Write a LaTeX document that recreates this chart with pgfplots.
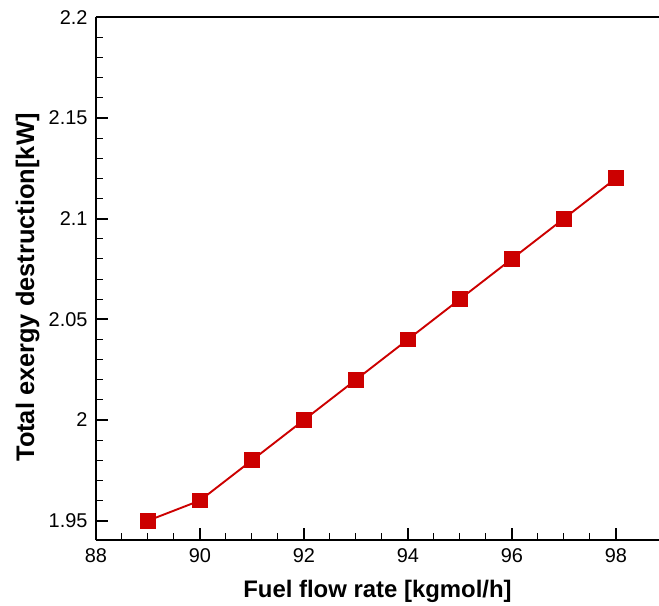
\documentclass[border=0pt]{standalone}
\usepackage{pgfplots}
\pgfplotsset{compat=1.18}
\usepackage{fontspec}
\setmainfont{Liberation Sans}
\definecolor{dred}{HTML}{CC0000}
\begin{document}
\begin{tikzpicture}
\begin{axis}[
  scale only axis,
  width=563bp, height=522.7bp,
  xmin=88, xmax=98.83, ymin=1.9404, ymax=2.2,
  axis x line*=box, axis y line*=left,
  axis line style={line width=2.4bp, -},
  xtick={88,90,...,98}, ytick={1.95,2,2.05,2.1,2.15,2.2},
  minor x tick num=3, minor y tick num=4,
  xtick pos=bottom, ytick pos=left,
  tick align=inside,
  major tick length=12bp, minor tick length=7bp,
  every major tick/.style={line width=1.8bp, black},
  every minor tick/.style={line width=1bp, black},
  yticklabel style={/pgf/number format/fixed, /pgf/number format/precision=2, xshift=-5bp},
  /pgf/number format/assume math mode=true,
  tick label style={font=\fontsize{20}{22}\selectfont},
  xticklabel style={yshift=-5bp},
  xlabel={Fuel flow rate [kgmol/h]},
  ylabel={Total exergy destruction[kW]},
  xlabel style={font=\bfseries\fontsize{24}{26}\selectfont, at={(axis description cs:0.5,0)}, anchor=base, yshift=-57bp},
  ylabel style={font=\bfseries\fontsize{25.5}{27}\selectfont, at={(axis description cs:-0.110,0.483)}, anchor=base},
  clip=false,
]
\addplot[color=dred, line width=1.9bp, mark=square*, mark size=7bp, mark options={solid, fill=dred, draw=dred}]
coordinates {
(89,1.95) (90,1.96) (91,1.98) (92,2.00) (93,2.02) (94,2.04) (95,2.06) (96,2.08) (97,2.10) (98,2.12)
};
\end{axis}
\pgfresetboundingbox
\path (current axis.south west) ++(-96bp,-66bp) coordinate (bl);
\path (current axis.north west) ++(-96bp,17.3bp) coordinate (tl);
\useasboundingbox (bl) rectangle ([xshift=659bp]tl);
\end{tikzpicture}
\end{document}
